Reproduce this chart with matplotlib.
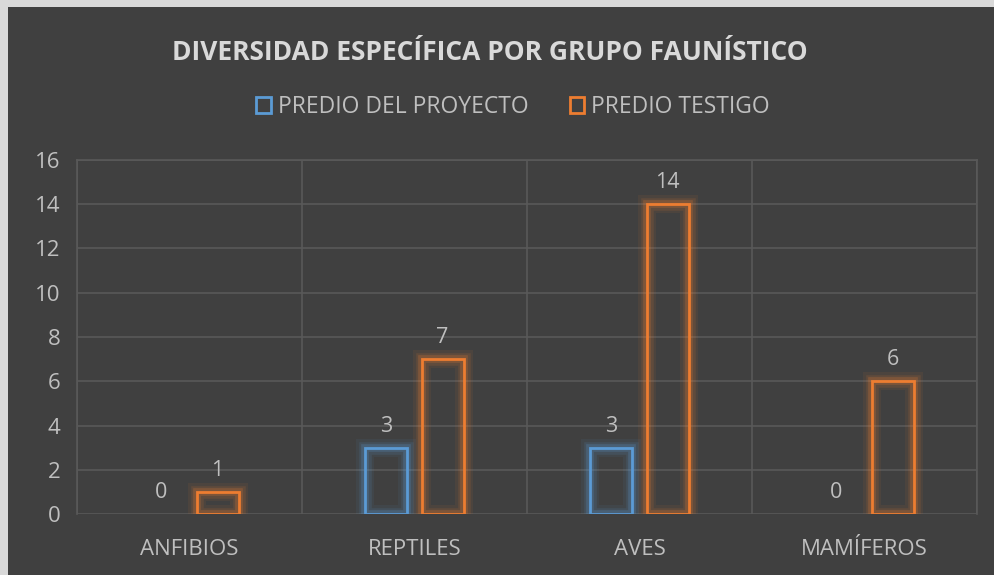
import numpy as np
import matplotlib.pyplot as plt
import matplotlib.patheffects as pe
from matplotlib.patches import Rectangle

grupos = ['ANFIBIOS', 'REPTILES', 'AVES', 'MAMÍFEROS']
proyecto = [0, 3, 3, 0]
testigo = [1, 7, 14, 6]
series = ['PREDIO DEL PROYECTO', 'PREDIO TESTIGO']
yticks = [0, 2, 4, 6, 8, 10, 12, 14, 16]

azul = '#5B9BD5'
naranja = '#ED7D31'
fondo = '#404040'
rejilla = '#595959'
texto = '#BFBFBF'

plt.rcParams['font.family'] = ['Open Sans', 'DejaVu Sans']

fig = plt.figure(figsize=(9.94, 5.75), dpi=100)
fig.patch.set_facecolor('#D9D9D9')
# dark chart area with a thin light border on top and left
fig.add_artist(Rectangle((8 / 994, 0), 1, 1 - 7 / 575, transform=fig.transFigure,
                         facecolor=fondo, edgecolor='none', zorder=0))

ax = fig.add_axes([77 / 994, 61 / 575, 900 / 994, 354 / 575])
ax.set_facecolor(fondo)

x = np.arange(len(grupos))
ancho = 0.187
desp = 0.125


def glow(color):
    return [pe.Stroke(linewidth=13, foreground=color, alpha=0.07),
            pe.Stroke(linewidth=9, foreground=color, alpha=0.13),
            pe.Stroke(linewidth=5.5, foreground=color, alpha=0.22),
            pe.Normal()]


for vals, color, dx in [(proyecto, azul, -desp), (testigo, naranja, desp)]:
    bars = ax.bar(x + dx, vals, ancho, facecolor='none', edgecolor=color,
                  linewidth=[2.0 if v > 0 else 0 for v in vals], zorder=3)
    for b, v in zip(bars, vals):
        if v > 0:
            b.set_path_effects(glow(color))
    ax.bar_label(bars, labels=[str(v) for v in vals], padding=8,
                 color=texto, fontsize=15.5)

ax.set_xlim(-0.5, len(grupos) - 0.5)
ax.set_ylim(0, 16)
ax.set_yticks(yticks)
ax.set_xticks(x)
ax.set_xticklabels(grupos)
ax.set_xticks(np.arange(-0.5, len(grupos)), minor=True)
ax.tick_params(axis='both', which='both', length=0, colors=texto, labelsize=16)
ax.tick_params(axis='y', pad=12)
ax.tick_params(axis='x', pad=18)
ax.grid(axis='y', color=rejilla, linewidth=1.2, zorder=0)
ax.grid(axis='x', which='minor', color=rejilla, linewidth=1.2, zorder=0)
ax.grid(axis='x', which='major', visible=False)
for s in ax.spines.values():
    s.set_color(rejilla)
    s.set_linewidth(1.2)
ax.spines['bottom'].set_visible(False)

fig.text(0.493, 1 - 53 / 575, 'DIVERSIDAD ESPECÍFICA POR GRUPO FAUNÍSTICO',
         ha='center', va='center', fontsize=19, fontweight='bold', color='#D9D9D9')

handles = [Rectangle((0, 0), 1, 1, facecolor='none', edgecolor=c, linewidth=2)
           for c in (azul, naranja)]
fig.legend(handles, series, loc='center', bbox_to_anchor=(0.516, 1 - 107 / 575),
           ncol=2, frameon=False, fontsize=16.5, labelcolor=texto,
           handlelength=0.65, handleheight=0.65, handletextpad=0.3, columnspacing=1.8)

fig.savefig('out.png', dpi=100, facecolor=fig.get_facecolor())
